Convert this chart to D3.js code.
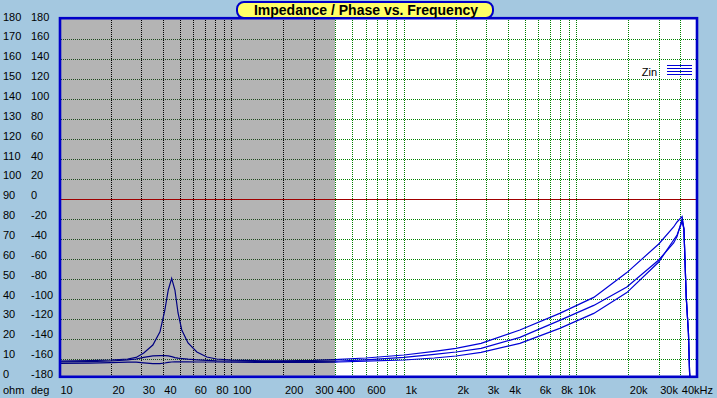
<!DOCTYPE html>
<html>
<head>
<meta charset="utf-8">
<script src="https://cdn.jsdelivr.net/npm/d3@7"></script>
<style>
  body { margin: 0; background: #a4c8e0; }
  svg { display: block; font-family: "Liberation Sans", Arial, sans-serif; }
</style>
</head>
<body>
<div id="chart"></div>
<script>
// frequency points (Hz) shared by the three impedance curves
var freqs = [10, 15, 20, 25, 28, 31, 35, 38.5, 41, 43, 45, 47, 49, 51.5, 56, 63, 72, 82, 100, 150,
  200, 300, 420, 600, 1000, 1500, 2000, 2800, 4700, 8000, 12600, 19600, 30000, 36600, 38300, 41000,
  42000, 43300, 44600, 45300, 45600];

// impedance (ohm)
var zinA = [9, 9.2, 9.5, 10, 10.8, 13, 17, 23.6, 34, 44.5, 50.3, 44.5, 33, 24.5, 18, 13.5, 11, 10, 9.4, 9.1,
  9.1, 9.3, 9.8, 10.5, 12, 13.8, 15.3, 17.8, 24.5, 32.8, 40.8, 53.2, 67.5, 76, 78.5, 81.2,
  75, 41, 23, 3, 0];
var zinB = [8.6, 8.7, 9, 9.6, 10, 10.8, 11.6, 11.7, 11.7, 11.6, 11.2, 10.7, 10.4, 10.2, 9.9, 9.6, 9.3, 9.1, 9, 8.8,
  8.8, 8.8, 9, 9.6, 10.8, 12.3, 13.5, 15.3, 20.8, 29.3, 36.8, 46, 59.5, 68, 71.2, 80,
  75, 41, 23, 3, 0];
var zinC = [7.8, 7.9, 8.2, 8.4, 8.4, 8.1, 7.7, 7.7, 8, 8.3, 8.5, 8.6, 8.6, 8.6, 8.6, 8.5, 8.5, 8.5, 8.4, 8.3,
  8.3, 8.3, 8.5, 8.9, 9.5, 10.5, 11.5, 13.3, 17.8, 25.3, 32.8, 43.2, 58.5, 69.5, 72, 78.7,
  75, 41, 23, 3, 0];

// axis ticks and labels
var ohmTicks = d3.range(0, 181, 10);
var degTicks = d3.range(-180, 181, 20);
var gridOhms = [10, 20, 30, 40, 50, 60, 70, 80, 100, 110, 120, 130, 140, 150, 160, 170];
var gridFreqs = [20, 30, 40, 50, 60, 70, 80, 90, 100, 200, 300, 400, 500, 600, 700, 800, 900,
  1000, 2000, 3000, 4000, 5000, 6000, 7000, 8000, 9000, 10000, 20000, 30000, 40000];
var freqLabels = [10, 20, 30, 40, 60, 80, 100, 200, 300, 400, 600, 1000, 2000, 3000, 4000, 6000, 8000, 10000, 20000, 30000, 40000];
var freqLabelText = ["10", "20", "30", "40", "60", "80", "100", "200", "300", "400", "600", "1k", "2k", "3k", "4k", "6k", "8k", "10k", "20k", "30k", "40kHz"];
var grayUpTo = 400;

var width = 717, height = 398;
// plot edges (note: "top" is reserved on window, so use plotTop)
var plotLeft = 59, plotRight = 697, plotTop = 19, plotBottom = 379;

var svg = d3.select("#chart").append("svg")
  .attr("width", width)
  .attr("height", height);

var xScale = d3.scaleLog().domain([10, 50000]).range([plotLeft, plotRight]);
var yScale = d3.scaleLinear().domain([0, 180]).range([plotBottom, plotTop]);
var xGrid = xScale.copy().interpolate(d3.interpolateRound);
var yGrid = yScale.copy().interpolate(d3.interpolateRound);

// label scales (text sits a touch off the grid lines)
var ohmLabel = d3.scaleLinear().domain([0, 180]).range([377.5, 20]);
var degLabel = d3.scaleLinear().domain([-180, 180]).range([377.5, 20]);

var xGray = Math.round(xScale(grayUpTo));

// plot background: gray band at low frequency, white after it
svg.append("rect").attr("x", plotLeft).attr("y", 17).attr("width", plotRight - plotLeft).attr("height", 361).attr("fill", "#ffffff");
svg.append("rect").attr("x", plotLeft).attr("y", 17).attr("width", xGray - plotLeft).attr("height", 361).attr("fill", "#b4b4b4");

var defs = svg.append("defs");
defs.append("clipPath").attr("id", "clipGray").append("rect")
  .attr("x", plotLeft).attr("y", 17).attr("width", xGray - plotLeft).attr("height", 361);
defs.append("clipPath").attr("id", "clipWhite").append("rect")
  .attr("x", xGray).attr("y", 17).attr("width", plotRight - xGray).attr("height", 361);

// horizontal grid lines: one rect per dot so they stay crisp
var hDots = [];
gridOhms.forEach(function (v) {
  for (var x = plotLeft + 2; x < plotRight - 1; x += 2) hDots.push([x, yGrid(v)]);
});
svg.append("g").selectAll("rect")
  .data(hDots)
  .enter()
  .append("rect")
  .attr("x", d => d[0])
  .attr("y", d => d[1])
  .attr("width", 1)
  .attr("height", 1)
  .attr("fill", d => d[0] < xGray ? "#1f4a1f" : "#008000");

// vertical grid lines, black over the gray band
var vDots = [];
gridFreqs.forEach(function (f) {
  for (var y = plotTop + 1; y < plotBottom - 2; y += 2) vDots.push([xGrid(f), y, f]);
});
svg.append("g").selectAll("rect")
  .data(vDots)
  .enter()
  .append("rect")
  .attr("x", d => d[0])
  .attr("y", d => d[1])
  .attr("width", 1)
  .attr("height", 1)
  .attr("fill", d => d[2] < grayUpTo ? "#000000" : "#008000");

// 0 deg line
svg.append("rect")
  .attr("x", plotLeft).attr("y", yGrid(90))
  .attr("width", plotRight - plotLeft).attr("height", 1)
  .attr("fill", "#a00000");

// impedance curves, darker over the gray band
var line = d3.line()
  .x(d => xScale(d[0]))
  .y(d => yScale(d[1]));
var curves = [zinA, zinB, zinC].map(vals => freqs.map((f, i) => [f, vals[i]]));

[["clipGray", "#000080"], ["clipWhite", "#0000d8"]].forEach(function ([clip, color]) {
  svg.append("g")
    .attr("clip-path", `url(#${clip})`)
    .selectAll("path")
    .data(curves)
    .enter()
    .append("path")
    .attr("d", line)
    .attr("fill", "none")
    .attr("stroke", color)
    .attr("stroke-width", 1.2);
});

// frame
svg.append("rect")
  .attr("x", 60).attr("y", 18.2).attr("width", 637).attr("height", 358.6)
  .attr("fill", "none")
  .attr("stroke", "#0000c8")
  .attr("stroke-width", 2.6);

// title
svg.append("rect")
  .attr("x", 237).attr("y", 2).attr("width", 256).attr("height", 16)
  .attr("rx", 7).attr("ry", 7)
  .attr("fill", "#ffff66")
  .attr("stroke", "#0000c8")
  .attr("stroke-width", 2);
svg.append("text")
  .attr("x", 366).attr("y", 15)
  .attr("text-anchor", "middle")
  .attr("font-size", 14)
  .attr("font-weight", "bold")
  .attr("fill", "#000")
  .text("Impedance / Phase vs. Frequency");

// left labels: ohm column and deg column (plain hyphen for minus)
var ohmAxis = svg.append("g")
  .call(d3.axisLeft(ohmLabel).tickValues(ohmTicks).tickSize(0).tickFormat(d => String(d)));
var degAxis = svg.append("g")
  .call(d3.axisLeft(degLabel).tickValues(degTicks).tickSize(0).tickFormat(d => String(d)));
[[ohmAxis, 3], [degAxis, 31]].forEach(function ([g, xPos]) {
  g.select(".domain").remove();
  g.selectAll("text")
    .attr("x", xPos)
    .attr("dy", 0)
    .attr("text-anchor", "start")
    .attr("font-size", 11)
    .attr("font-family", "Liberation Sans, Arial, sans-serif")
    .attr("fill", "#000");
});

// bottom labels
var xLab = svg.append("g")
  .attr("transform", "translate(0,384)")
  .call(d3.axisBottom(xScale).tickValues(freqLabels).tickSize(0).tickFormat((d, i) => freqLabelText[i]));
xLab.select(".domain").remove();
xLab.selectAll("text")
  .attr("x", 1)
  .attr("y", 10)
  .attr("dy", 0)
  .attr("text-anchor", "start")
  .attr("font-size", 11)
  .attr("font-family", "Liberation Sans, Arial, sans-serif")
  .attr("fill", "#000");

svg.append("text").attr("x", 3).attr("y", 394).attr("font-size", 11).text("ohm");
svg.append("text").attr("x", 31).attr("y", 394).attr("font-size", 11).text("deg");

// legend
svg.append("text")
  .attr("x", 657).attr("y", 76)
  .attr("text-anchor", "end")
  .attr("font-size", 11)
  .text("Zin");
svg.selectAll(".legendLine")
  .data([65, 68, 71, 74])
  .enter()
  .append("rect")
  .attr("class", "legendLine")
  .attr("x", 667).attr("y", d => d)
  .attr("width", 25).attr("height", 1)
  .attr("fill", "#0000d8");
</script>
</body>
</html>
